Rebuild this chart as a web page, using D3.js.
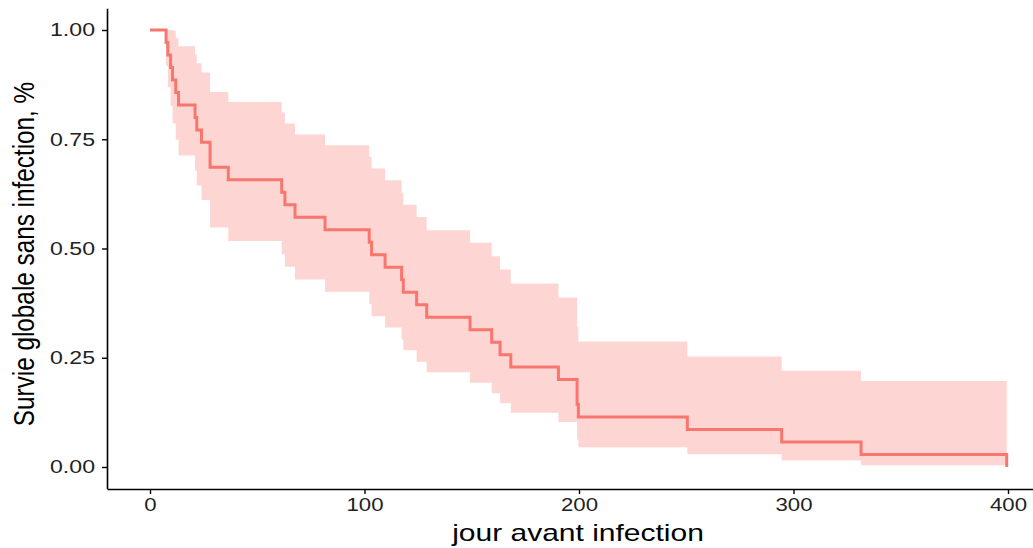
<!DOCTYPE html>
<html>
<head>
<meta charset="utf-8">
<script src="https://cdn.jsdelivr.net/npm/d3@7"></script>
<style>
  html, body { margin: 0; padding: 0; background: #fff; }
  svg { display: block; }
  text { font-family: "Liberation Sans", Arial, Helvetica, sans-serif; }
</style>
</head>
<body>
<svg id="chart" width="1033" height="548"></svg>
<script>
// ---- data (Kaplan-Meier step curve, 95% CI band) ----
const days = [0, 7.5, 8.3, 9.6, 10.5, 12, 13.3, 21, 21.8, 24, 28, 36.5, 61.4, 62.9, 67.6, 81.6,
  102.2, 103.3, 109.6, 117.3, 118.1, 124.3, 129, 149.2, 159.3, 163.2, 168.2, 190.4, 199.1, 199.7,
  250.5, 294.5, 331.5, 399.4];
const survival = [1, 0.9714, 0.9429, 0.9143, 0.8857, 0.8571, 0.8286, 0.8, 0.7714, 0.7429, 0.6857,
  0.6571, 0.6286, 0.6, 0.5714, 0.5429, 0.5143, 0.4857, 0.4571, 0.4286, 0.4, 0.3714, 0.3429,
  0.3143, 0.2857, 0.2571, 0.2286, 0.2, 0.1429, 0.1143, 0.0857, 0.0571, 0.0286, 0];
const upperCI = [1, 1, 1, 1, 0.998, 0.981, 0.963, 0.944, 0.924, 0.903, 0.858, 0.835, 0.811, 0.786,
  0.761, 0.736, 0.710, 0.683, 0.656, 0.628, 0.600, 0.572, 0.542, 0.513, 0.482, 0.452, 0.420,
  0.388, 0.322, 0.287, 0.253, 0.220, 0.197, 0.197];
const lowerCI = [1, 0.918, 0.869, 0.826, 0.786, 0.749, 0.713, 0.678, 0.644, 0.611, 0.548, 0.517,
  0.487, 0.458, 0.429, 0.401, 0.373, 0.345, 0.319, 0.292, 0.267, 0.241, 0.217, 0.193, 0.169,
  0.146, 0.124, 0.103, 0.063, 0.045, 0.029, 0.015, 0.004, 0.004];
const xTicks = [0, 100, 200, 300, 400];
const yTicks = [0, 0.25, 0.5, 0.75, 1];
const xTitle = "jour avant infection";
const yTitle = "Survie globale sans infection, %";

const points = days.map((d, i) => ({ t: d, s: survival[i], lo: lowerCI[i], hi: upperCI[i] }));

const svg = d3.select("#chart");
const x = d3.scaleLinear().domain([-20, 420]).range([107.1, 1050.9]);
const y = d3.scaleLinear().domain([-0.05, 1.05]).range([488.85, 8.15]);

const col = "#F8766D";
const TS = 1.25; // horizontal stretch of the reference text

// CI band
svg.append("path")
  .datum(points)
  .attr("fill", col)
  .attr("fill-opacity", 0.3)
  .attr("d", d3.area().curve(d3.curveStepAfter)
    .x(d => x(d.t)).y0(d => y(d.lo)).y1(d => y(d.hi)));

// survival curve
svg.append("path")
  .datum(points)
  .attr("fill", "none")
  .attr("stroke", col)
  .attr("stroke-width", 3)
  .attr("d", d3.line().curve(d3.curveStepAfter).x(d => x(d.t)).y(d => y(d.s)));

// axes
const xAxis = svg.append("g").attr("transform", "translate(0,489)")
  .call(d3.axisBottom(x).tickValues(xTicks).tickSize(5).tickPadding(4).tickSizeOuter(0));
const yAxis = svg.append("g").attr("transform", "translate(107,0)")
  .call(d3.axisLeft(y).tickValues(yTicks).tickFormat(d3.format(".2f")).tickSize(5).tickPadding(7).tickSizeOuter(0));

[xAxis, yAxis].forEach(g => {
  g.select(".domain").attr("stroke", "#000").attr("stroke-width", 1.6);
  g.selectAll(".tick line").attr("stroke", "#000").attr("stroke-width", 1.4);
  g.selectAll(".tick text").attr("fill", "#222").attr("font-size", 18.5)
    .attr("font-family", "Liberation Sans, Arial, sans-serif");
});
xAxis.selectAll(".tick text").attr("transform", `scale(1.2,1)`);
yAxis.selectAll(".tick text").attr("transform", `translate(-12,0) scale(${TS},1) translate(12,0)`);

// titles
svg.append("text")
  .attr("transform", `translate(578,541) scale(${TS},1)`)
  .attr("text-anchor", "middle")
  .attr("font-size", 24)
  .attr("fill", "#000")
  .text(xTitle);

svg.append("text")
  .attr("transform", `translate(34,254) scale(1.2,1) rotate(-90)`)
  .attr("text-anchor", "middle")
  .attr("font-size", 24.3)
  .attr("fill", "#000")
  .text(yTitle);
</script>
</body>
</html>
